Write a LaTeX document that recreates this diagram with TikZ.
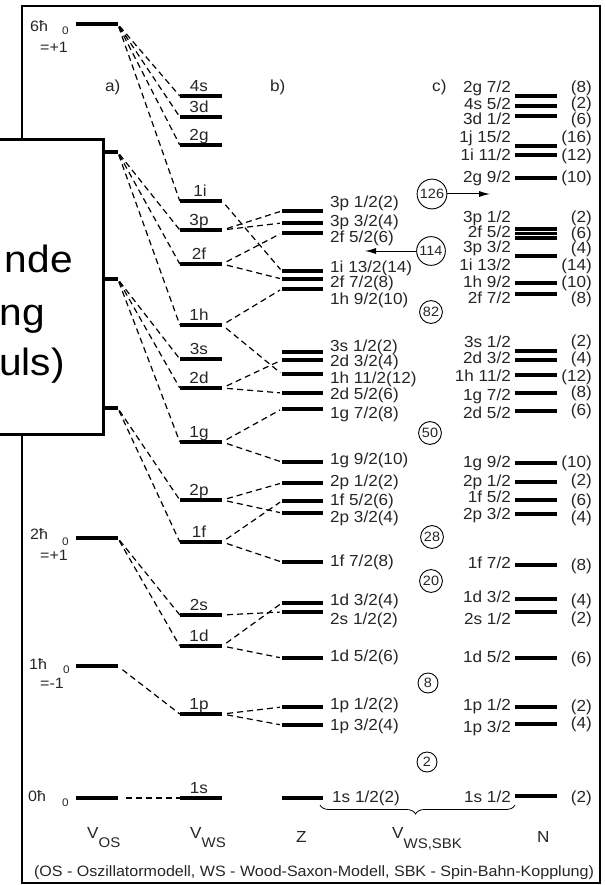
\documentclass[tikz,border=0pt]{standalone}
\usepackage{fontspec}
\setmainfont{Liberation Sans}[FakeStretch=1.07]
\usetikzlibrary{arrows.meta,calc,decorations.pathreplacing}
\definecolor{ink}{HTML}{262626}
\newcommand{\labfont}{\fontsize{16}{18}\selectfont}
\newcommand{\capfont}{\fontsize{15}{17}\selectfont}
\newcommand{\subfont}{\fontsize{14}{15}\selectfont}
\newcommand{\idxfont}{\fontsize{11}{12}\selectfont}
\newcommand{\magfont}{\fontsize{13.5}{15}\selectfont}
\newcommand{\boxfont}{\fontsize{38}{46}\selectfont}

\begin{document}
\begin{tikzpicture}[x=1pt,y=-1pt,font=\labfont,
  lvl/.style={fill=black,inner sep=0,minimum width=42pt,minimum height=3.3pt},
  zlvl/.style={lvl,minimum width=41pt},
  conn/.style={line width=1.2pt,dash pattern=on 6pt off 4pt},
  osconn/.style={conn,shorten <=3pt},
  wsconn/.style={conn,shorten <=5pt,shorten >=2pt},
  wsl/.style={anchor=base,inner sep=0,text=ink},
  zl/.style={anchor=base west,inner sep=0,text=ink},
  nl/.style={anchor=base east,inner sep=0,text=ink},
  txt/.style={anchor=base west,inner sep=0,text=ink},
  magic/.style={draw,circle,inner sep=1.5pt,minimum size=20pt,line width=0.9pt,text=ink,font=\magfont}]
\useasboundingbox (0,0) rectangle (605,885);
\clip (0,0) rectangle (605,885);
\fill[white] (0,0) rectangle (605,885);
\draw[line width=2.6pt] (22,6) rectangle (600,883);

% a) oscillator levels
\node[lvl] (os6) at (96.5,24) {};
\node[lvl] (os5) at (96.5,152) {};
\node[lvl] (os4) at (96.5,279) {};
\node[lvl] (os3) at (96.5,408) {};
\node[lvl] (os2) at (96.5,538) {};
\node[lvl] (os1) at (96.5,666) {};
\node[lvl] (os0) at (96.5,798) {};
\node[txt,font=\capfont] (os6-t) at (30,32) {6ħ};
\node[txt,font=\idxfont] (os6-p) at (62,35) {0};
\node[txt,font=\capfont] (os6-q) at (40,53) {=+1};
\node[txt,font=\capfont] (os2-t) at (30,539) {2ħ};
\node[txt,font=\idxfont] (os2-p) at (62,545) {0};
\node[txt,font=\capfont] (os2-q) at (40,560) {=+1};
\node[txt,font=\capfont] (os1-t) at (29,669) {1ħ};
\node[txt,font=\idxfont] (os1-p) at (63,673) {0};
\node[txt,font=\capfont] (os1-q) at (40,688) {=-1};
\node[txt,font=\capfont] (os0-t) at (28,801) {0ħ};
\node[txt,font=\idxfont] (os0-p) at (62,806) {0};

% b) Wood-Saxon levels
\node[lvl] (ws4s) at (201,96) {};
\node[lvl] (ws3d) at (201,117) {};
\node[lvl] (ws2g) at (201,145) {};
\node[lvl] (ws1i) at (201,201) {};
\node[lvl] (ws3p) at (201,230) {};
\node[lvl] (ws2f) at (201,264) {};
\node[lvl] (ws1h) at (201,325) {};
\node[lvl] (ws3s) at (201,359) {};
\node[lvl] (ws2d) at (201,388) {};
\node[lvl] (ws1g) at (201,442) {};
\node[lvl] (ws2p) at (201,500) {};
\node[lvl] (ws1f) at (201,542) {};
\node[lvl] (ws2s) at (201,615) {};
\node[lvl] (ws1d) at (201,646) {};
\node[lvl] (ws1p) at (201,714) {};
\node[lvl] (ws1s) at (201,798) {};
\node[wsl] (ws4s-t) at (199,91.5) {4s};
\node[wsl] (ws3d-t) at (199,112.5) {3d};
\node[wsl] (ws2g-t) at (199,140.5) {2g};
\node[wsl] (ws1i-t) at (200,196.5) {1i};
\node[wsl] (ws3p-t) at (199,225.5) {3p};
\node[wsl] (ws2f-t) at (199,259.5) {2f};
\node[wsl] (ws1h-t) at (199,320.5) {1h};
\node[wsl] (ws3s-t) at (199,354.5) {3s};
\node[wsl] (ws2d-t) at (199,383.5) {2d};
\node[wsl] (ws1g-t) at (199,437.5) {1g};
\node[wsl] (ws2p-t) at (199,495.5) {2p};
\node[wsl] (ws1f-t) at (199,537.5) {1f};
\node[wsl] (ws2s-t) at (199,610.5) {2s};
\node[wsl] (ws1d-t) at (199,641.5) {1d};
\node[wsl] (ws1p-t) at (199,709.5) {1p};
\node[wsl] (ws1s-t) at (199,793.5) {1s};

% oscillator -> Wood-Saxon
\draw[osconn] (os6.east) -- (ws4s.west);
\draw[osconn] (os6.east) -- (ws3d.west);
\draw[osconn] (os6.east) -- (ws2g.west);
\draw[osconn] (os6.east) -- (ws1i.west);
\draw[osconn] (os5.east) -- (ws3p.west);
\draw[osconn] (os5.east) -- (ws2f.west);
\draw[osconn] (os5.east) -- (ws1h.west);
\draw[osconn] (os4.east) -- (ws3s.west);
\draw[osconn] (os4.east) -- (ws2d.west);
\draw[osconn] (os4.east) -- (ws1g.west);
\draw[osconn] (os3.east) -- (ws2p.west);
\draw[osconn] (os3.east) -- (ws1f.west);
\draw[osconn] (os2.east) -- (ws2s.west);
\draw[osconn] (os2.east) -- (ws1d.west);
\draw[osconn,shorten <=6pt] (os1.east) -- (ws1p.west);
\draw[osconn,shorten <=8pt] (os0.east) -- (ws1s.west);

% Z column (protons)
\node[zlvl] (z3p1) at (302.5,211) {};
\node[zlvl] (z3p3) at (302.5,223) {};
\node[zlvl] (z2f5) at (302.5,233) {};
\node[zlvl] (z1i13) at (302.5,271) {};
\node[zlvl] (z2f7) at (302.5,279) {};
\node[zlvl] (z1h9) at (302.5,289) {};
\node[zlvl] (z3s1) at (302.5,352) {};
\node[zlvl] (z2d3) at (302.5,360) {};
\node[zlvl] (z1h11) at (302.5,374) {};
\node[zlvl] (z2d5) at (302.5,393) {};
\node[zlvl] (z1g7) at (302.5,409) {};
\node[zlvl] (z1g9) at (302.5,462) {};
\node[zlvl] (z2p1) at (302.5,483) {};
\node[zlvl] (z1f5) at (302.5,501) {};
\node[zlvl] (z2p3) at (302.5,513) {};
\node[zlvl] (z1f7) at (302.5,562) {};
\node[zlvl] (z1d3) at (302.5,603) {};
\node[zlvl] (z2s1) at (302.5,612) {};
\node[zlvl] (z1d5) at (302.5,658) {};
\node[zlvl] (z1p1) at (302.5,707) {};
\node[zlvl] (z1p3) at (302.5,725) {};
\node[zlvl] (z1s1) at (302.5,798) {};
\node[zl] (z3p1-t) at (330,208) {3p 1/2(2)};
\node[zl] (z3p3-t) at (330,226.5) {3p 3/2(4)};
\node[zl] (z2f5-t) at (330,242) {2f 5/2(6)};
\node[zl] (z1i13-t) at (330,272) {1i 13/2(14)};
\node[zl] (z2f7-t) at (330,287.5) {2f 7/2(8)};
\node[zl] (z1h9-t) at (330,304) {1h 9/2(10)};
\node[zl] (z3s1-t) at (330,351) {3s 1/2(2)};
\node[zl] (z2d3-t) at (330,366.5) {2d 3/2(4)};
\node[zl] (z1h11-t) at (330,383.5) {1h 11/2(12)};
\node[zl] (z2d5-t) at (330,399.5) {2d 5/2(6)};
\node[zl] (z1g7-t) at (330,418.5) {1g 7/2(8)};
\node[zl] (z1g9-t) at (330,464.5) {1g 9/2(10)};
\node[zl] (z2p1-t) at (330,486.5) {2p 1/2(2)};
\node[zl] (z1f5-t) at (330,505.5) {1f 5/2(6)};
\node[zl] (z2p3-t) at (330,522.5) {2p 3/2(4)};
\node[zl] (z1f7-t) at (330,566.5) {1f 7/2(8)};
\node[zl] (z1d3-t) at (330,605.5) {1d 3/2(4)};
\node[zl] (z2s1-t) at (330,624.5) {2s 1/2(2)};
\node[zl] (z1d5-t) at (330,661.5) {1d 5/2(6)};
\node[zl] (z1p1-t) at (330,709.5) {1p 1/2(2)};
\node[zl] (z1p3-t) at (330,730.5) {1p 3/2(4)};
\node[zl] (z1s1-t) at (332,802.5) {1s 1/2(2)};

% Wood-Saxon -> spin-orbit split
\draw[wsconn] (ws1i.east) -- (z1i13.west);
\draw[wsconn] (ws3p.east) -- (z3p1.west);
\draw[wsconn] (ws3p.east) -- (z3p3.west);
\draw[wsconn] (ws2f.east) -- (z2f5.west);
\draw[wsconn] (ws2f.east) -- (z2f7.west);
\draw[wsconn] (ws1h.east) -- (z1h9.west);
\draw[wsconn] (ws1h.east) -- (z1h11.west);
\draw[wsconn] (ws2d.east) -- (z2d3.west);
\draw[wsconn] (ws2d.east) -- (z2d5.west);
\draw[wsconn] (ws1g.east) -- (z1g7.west);
\draw[wsconn] (ws1g.east) -- (z1g9.west);
\draw[wsconn] (ws2p.east) -- (z2p1.west);
\draw[wsconn] (ws2p.east) -- (z2p3.west);
\draw[wsconn] (ws1f.east) -- (z1f5.west);
\draw[wsconn] (ws1f.east) -- (z1f7.west);
\draw[wsconn] (ws2s.east) -- (z2s1.west);
\draw[wsconn] (ws1d.east) -- (z1d3.west);
\draw[wsconn] (ws1d.east) -- (z1d5.west);
\draw[wsconn] (ws1p.east) -- (z1p1.west);
\draw[wsconn] (ws1p.east) -- (z1p3.west);

% N column (neutrons)
\node[lvl] (n2g7) at (536,96) {};
\node[lvl] (n4s5) at (536,106) {};
\node[lvl] (n3d1) at (536,116) {};
\node[lvl] (n1j15) at (536,146) {};
\node[lvl] (n1i11) at (536,155) {};
\node[lvl] (n2g9) at (536,178) {};
\node[lvl] (n3p1) at (536,229) {};
\node[lvl] (n2f5) at (536,233.5) {};
\node[lvl] (n3p3) at (536,238) {};
\node[lvl] (n1i13) at (536,256) {};
\node[lvl] (n1h9) at (536,283) {};
\node[lvl] (n2f7) at (536,294) {};
\node[lvl] (n3s1) at (536,351) {};
\node[lvl] (n2d3) at (536,360) {};
\node[lvl] (n1h11) at (536,375) {};
\node[lvl] (n1g7) at (536,393) {};
\node[lvl] (n2d5) at (536,411) {};
\node[lvl] (n1g9) at (536,463) {};
\node[lvl] (n2p1) at (536,482) {};
\node[lvl] (n1f5) at (536,500) {};
\node[lvl] (n2p3) at (536,514) {};
\node[lvl] (n1f7) at (536,565) {};
\node[lvl] (n1d3) at (536,599) {};
\node[lvl] (n2s1) at (536,612) {};
\node[lvl] (n1d5) at (536,658) {};
\node[lvl] (n1p1) at (536,707) {};
\node[lvl] (n1p3) at (536,724) {};
\node[lvl] (n1s1) at (536,796) {};
\node[nl] (n2g7-t) at (511,92.5) {2g 7/2};
\node[nl] (n4s5-t) at (511,109.5) {4s 5/2};
\node[nl] (n3d1-t) at (511,124.5) {3d 1/2};
\node[nl] (n1j15-t) at (511,142.5) {1j 15/2};
\node[nl] (n1i11-t) at (511,160.5) {1i 11/2};
\node[nl] (n2g9-t) at (511,182.5) {2g 9/2};
\node[nl] (n3p1-t) at (511,222.5) {3p 1/2};
\node[nl] (n2f5-t) at (511,237) {2f 5/2};
\node[nl] (n3p3-t) at (511,252.5) {3p 3/2};
\node[nl] (n1i13-t) at (511,270.5) {1i 13/2};
\node[nl] (n1h9-t) at (511,287.5) {1h 9/2};
\node[nl] (n2f7-t) at (511,303.5) {2f 7/2};
\node[nl] (n3s1-t) at (511,347.5) {3s 1/2};
\node[nl] (n2d3-t) at (511,363.5) {2d 3/2};
\node[nl] (n1h11-t) at (511,381.5) {1h 11/2};
\node[nl] (n1g7-t) at (511,400.5) {1g 7/2};
\node[nl] (n2d5-t) at (511,418.5) {2d 5/2};
\node[nl] (n1g9-t) at (511,467.5) {1g 9/2};
\node[nl] (n2p1-t) at (511,486.5) {2p 1/2};
\node[nl] (n1f5-t) at (511,502.5) {1f 5/2};
\node[nl] (n2p3-t) at (511,519.5) {2p 3/2};
\node[nl] (n1f7-t) at (511,568.5) {1f 7/2};
\node[nl] (n1d3-t) at (511,602.5) {1d 3/2};
\node[nl] (n2s1-t) at (511,624.5) {2s 1/2};
\node[nl] (n1d5-t) at (511,662.5) {1d 5/2};
\node[nl] (n1p1-t) at (511,710.5) {1p 1/2};
\node[nl] (n1p3-t) at (511,732.5) {1p 3/2};
\node[nl] (n1s1-t) at (511,802.5) {1s 1/2};
\node[nl] (n2g7-c) at (592,92.5) {(8)};
\node[nl] (n4s5-c) at (592,109) {(2)};
\node[nl] (n3d1-c) at (592,125) {(6)};
\node[nl] (n1j15-c) at (592,142.5) {(16)};
\node[nl] (n1i11-c) at (592,160.5) {(12)};
\node[nl] (n2g9-c) at (592,182.5) {(10)};
\node[nl] (n3p1-c) at (592,222.5) {(2)};
\node[nl] (n2f5-c) at (592,238) {(6)};
\node[nl] (n3p3-c) at (592,254) {(4)};
\node[nl] (n1i13-c) at (592,270.5) {(14)};
\node[nl] (n1h9-c) at (592,287.5) {(10)};
\node[nl] (n2f7-c) at (592,303.5) {(8)};
\node[nl] (n3s1-c) at (592,346.5) {(2)};
\node[nl] (n2d3-c) at (592,363.5) {(4)};
\node[nl] (n1h11-c) at (592,381.5) {(12)};
\node[nl] (n1g7-c) at (592,397.5) {(8)};
\node[nl] (n2d5-c) at (592,415.5) {(6)};
\node[nl] (n1g9-c) at (592,467.5) {(10)};
\node[nl] (n2p1-c) at (592,485.5) {(2)};
\node[nl] (n1f5-c) at (592,505.5) {(6)};
\node[nl] (n2p3-c) at (592,522.5) {(4)};
\node[nl] (n1f7-c) at (592,570.5) {(8)};
\node[nl] (n1d3-c) at (592,605.5) {(4)};
\node[nl] (n2s1-c) at (592,623.5) {(2)};
\node[nl] (n1d5-c) at (592,663.5) {(6)};
\node[nl] (n1p1-c) at (592,711.5) {(2)};
\node[nl] (n1p3-c) at (592,728.5) {(4)};
\node[nl] (n1s1-c) at (592,802.5) {(2)};

% magic numbers
\node[magic] (m126) at (432,194) {126};
\node[magic] (m114) at (431,251) {114};
\node[magic] (m82) at (431,312) {82};
\node[magic] (m50) at (430,433) {50};
\node[magic] (m28) at (432,537) {28};
\node[magic] (m20) at (431,581) {20};
\node[magic] (m8) at (428,683) {8};
\node[magic] (m2) at (427,762) {2};
\coordinate (a126) at (490,194);
\coordinate (a114) at (365,251);
\draw[line width=1pt,-{Latex[length=11pt,width=6pt]}] (m126.east) -- (a126);
\draw[line width=1pt,-{Latex[length=11pt,width=6pt]}] (m114.west) -- (a114);

% headers and axis labels
\node[txt] (hd-a) at (105,92) {a)};
\node[txt] (hd-b) at (270,92) {b)};
\node[txt] (hd-c) at (432,92) {c)};
\node[txt] (ax-os) at (87,838) {V\raisebox{-9pt}{\subfont OS}};
\node[txt] (ax-ws) at (190,838) {V\raisebox{-9pt}{\subfont WS}};
\node[txt] (ax-z) at (296,842) {Z};
\node[txt] (ax-sbk) at (392,838) {V\raisebox{-10pt}{\subfont WS,SBK}};
\node[txt] (ax-n) at (537,842) {N};
\coordinate (br-l) at (320,805);
\coordinate (br-r) at (515,805);
\draw[line width=0.8pt,decorate,decoration={brace,mirror,amplitude=9pt,aspect=0.49}] (br-l) -- (br-r);
\node[anchor=base,inner sep=0,text=ink,font=\capfont] (caption) at (314,876) {(OS - Oszillatormodell, WS - Wood-Saxon-Modell, SBK - Spin-Bahn-Kopplung)};

% overlapping box on the left
\draw[line width=3pt,fill=white] (-20,140) rectangle (103,434);
\node[anchor=base east,inner sep=0,font=\boxfont] (bx1) at (73,272) {nde};
\node[anchor=base east,inner sep=0,font=\boxfont] (bx2) at (45,325) {ng};
\node[anchor=base east,inner sep=0,font=\boxfont] (bx3) at (65,375) {uls)};
\end{tikzpicture}
\end{document}
